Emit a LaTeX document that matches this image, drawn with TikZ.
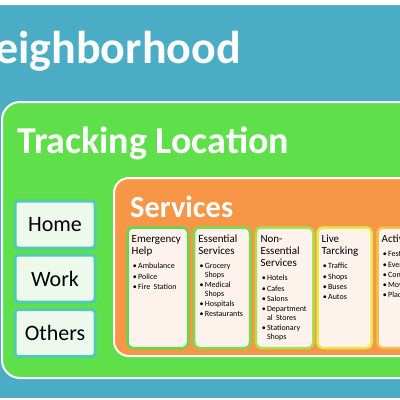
\documentclass[tikz,border=0pt]{standalone}
\usepackage{fontspec}
\setmainfont{Carlito}
\usepackage{tikz}
\usetikzlibrary{positioning}
\definecolor{nbblue}{HTML}{4BACC6}
\definecolor{tlgreen}{HTML}{5FE04A}
\definecolor{svorange}{HTML}{F79646}
\definecolor{placefill}{HTML}{EEF9EE}
\definecolor{placeline}{HTML}{4FCBB0}
\definecolor{colfill}{HTML}{FDF3EC}
\definecolor{colemerg}{HTML}{5CDB4A}
\definecolor{colessen}{HTML}{78DC50}
\definecolor{colnoness}{HTML}{A6E24A}
\definecolor{collive}{HTML}{E3EA47}
\definecolor{colactiv}{HTML}{F2C34A}
\tikzstyle{region} = [rectangle, draw=white, line width=2pt, anchor=north west, inner sep=0pt]
\tikzstyle{heading} = [text=white, font=\bfseries, inner sep=0pt]
\tikzstyle{place} = [rectangle, rounded corners=3pt, draw=placeline, line width=3pt, fill=placefill, minimum width=80pt, minimum height=47pt, inner sep=0pt, font=\fontsize{22}{24}\selectfont]
\tikzstyle{svcol} = [rectangle, rounded corners=5pt, line width=2.5pt, fill=colfill, minimum height=120.5pt, inner sep=0pt]
\tikzstyle{coltext} = [anchor=north west, inner sep=0pt, text width=56pt, align=left]
\newcommand{\coltitle}[1]{{\fontsize{11}{12}\selectfont\rule{0pt}{9pt}#1\par}\vspace{5.9pt}}
\newcommand{\svitem}[1]{{\fontsize{8}{8.6}\selectfont\hangindent=6.5pt\hangafter=1\noindent\hspace*{1.2pt}\makebox[5.3pt][l]{\textbullet}#1\par}\vspace{1.7pt}}

\begin{document}
\begin{tikzpicture}[x=1pt, y=-1pt]
\useasboundingbox (0,0) rectangle (400,400);
\clip (0,0) rectangle (400,400);

% outer layers
\node (neigh) [region, rounded corners=20pt, fill=nbblue, minimum width=700pt, minimum height=395pt] at (-80,3) {};
\node (neightitle) [heading, anchor=base east, font=\fontsize{46}{50}\selectfont\bfseries] at (241,63) {Neighborhood};

\node (track) [region, rounded corners=18pt, fill=tlgreen, minimum width=640pt, minimum height=276pt] at (1,101) {};
\node (tracktitle) [heading, anchor=base west, font=\fontsize{38}{40}\selectfont\bfseries] at (17,153) {Tracking Location};

% places
\node (home) [place, anchor=north west] at (13.5,199.5) {Home};
\node (work) [place, below=4pt of home] {Work};
\node (others) [place, below=4.5pt of work] {Others};

% services
\node (serv) [region, rounded corners=15pt, fill=svorange, minimum width=560pt, minimum height=178pt] at (113,177) {};
\node (servtitle) [heading, anchor=base west, font=\fontsize{30.5}{32}\selectfont\bfseries] at (130,217) {Services};

\node (emerg) [svcol, draw=colemerg, minimum width=60.5pt, anchor=north west] at (126.25,226.25) {};
\node (essen) [svcol, draw=colessen, minimum width=55.8pt, right=3.7pt of emerg] {};
\node (noness) [svcol, draw=colnoness, minimum width=57.5pt, right=3.3pt of essen] {};
\node (live) [svcol, draw=collive, minimum width=54.2pt, right=1.7pt of noness] {};
\node (activ) [svcol, draw=colactiv, minimum width=60pt, right=3.3pt of live] {};

\node (emergtxt) [coltext] at ([xshift=5.2pt,yshift=-6.75pt]emerg.north west)
  {\coltitle{Emergency\\Help}\svitem{Ambulance}\svitem{Police}\svitem{Fire Station}};
\node (essentxt) [coltext] at ([xshift=5.2pt,yshift=-6.75pt]essen.north west)
  {\coltitle{Essential\\Services}\svitem{Grocery\newline Shops}\svitem{Medical\newline Shops}\svitem{Hospitals}\svitem{Restaurants}};
\node (nonesstxt) [coltext] at ([xshift=5.8pt,yshift=-6.75pt]noness.north west)
  {\coltitle{Non-\\Essential\\Services}\svitem{Hotels}\svitem{Cafes}\svitem{Salons}\svitem{Department\newline al Stores}\svitem{Stationary\newline Shops}};
\node (livetxt) [coltext] at ([xshift=5.2pt,yshift=-6.75pt]live.north west)
  {\coltitle{Live\\Tarcking}\svitem{Traffic}\svitem{Shops}\svitem{Buses}\svitem{Autos}};
\node (activtxt) [coltext] at ([xshift=5.2pt,yshift=-6.75pt]activ.north west)
  {\coltitle{Activities}\svitem{Festivals}\svitem{Events}\svitem{Concerts}\svitem{Movies}\svitem{Places}};

\end{tikzpicture}
\end{document}
